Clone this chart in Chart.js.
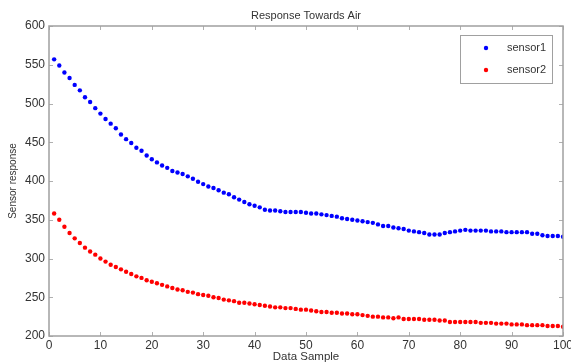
<!DOCTYPE html>
<html>
<head>
<meta charset="utf-8">
<script src="https://cdn.jsdelivr.net/npm/chart.js@4/dist/chart.umd.min.js"></script>
<style>
  html, body { margin: 0; padding: 0; background: #fff; }
  #wrap { width: 571px; height: 363px; }
</style>
</head>
<body>
<div id="wrap"><canvas id="graphCanvas" width="571" height="363"></canvas></div>
<script>
// DATA BLOCK
const samples = [];
for (let i = 1; i <= 100; i++) samples.push(i);

const sensor1 = [
  557, 549, 540, 533, 524, 517, 508, 502, 494, 487,
  480, 474, 468, 460, 454, 449, 443, 439, 433, 428,
  424, 420, 417, 413, 411, 409, 406, 403, 399, 396,
  393, 391, 388, 385, 383, 379, 376, 373, 370, 368,
  366, 363, 362, 362, 361, 360, 360, 360, 360, 359,
  358, 358, 357, 356, 355, 354, 352, 351, 350, 349,
  348, 347, 346, 344, 342, 342, 340, 339, 338, 336,
  335, 334, 333, 331, 331, 331, 333, 334, 335, 336,
  337, 336, 336, 336, 336, 335, 335, 335, 334, 334,
  334, 334, 334, 332, 332, 330, 329, 329, 329, 328
];

const sensor2 = [
  358, 350, 341, 333, 326, 320, 314, 309, 305, 300,
  296, 292, 289, 286, 283, 280, 277, 275, 272, 270,
  268, 266, 264, 262, 260, 259, 257, 256, 254, 253,
  252, 250, 249, 247, 246, 245, 243, 243, 242, 241,
  240, 239, 238, 237, 237, 236, 236, 235, 234, 234,
  233, 232, 231, 231, 230, 230, 229, 229, 228, 228,
  227, 226, 225, 225, 224, 224, 223, 224, 222, 222,
  222, 222, 221, 221, 221, 220, 220, 218, 218, 218,
  218, 218, 218, 217, 217, 217, 216, 216, 216, 215,
  215, 215, 214, 214, 214, 214, 213, 213, 213, 212
];

const xTicks = [0, 10, 20, 30, 40, 50, 60, 70, 80, 90, 100];
const yTicks = [200, 250, 300, 350, 400, 450, 500, 550, 600];
const seriesNames = ['sensor1', 'sensor2'];
const seriesColors = ['#0000ff', '#ff0000'];

const FONT = 'Liberation Sans, Arial, sans-serif';

// box + inward ticks + title + legend, MATLAB style
const matlabBox = {
  id: 'matlabBox',
  afterDraw(chart) {
    const ctx = chart.ctx;
    const a = chart.chartArea;
    const xs = chart.scales.x, ys = chart.scales.y;
    ctx.save();
    // ticks
    ctx.strokeStyle = '#b0b0b0';
    ctx.lineWidth = 1;
    ctx.beginPath();
    xTicks.forEach(v => {
      const px = Math.round(xs.getPixelForValue(v)) + 0.5;
      ctx.moveTo(px, a.bottom); ctx.lineTo(px, a.bottom - 4);
      ctx.moveTo(px, a.top); ctx.lineTo(px, a.top + 4);
    });
    yTicks.forEach(v => {
      const py = Math.round(ys.getPixelForValue(v)) + 0.5;
      ctx.moveTo(a.left, py); ctx.lineTo(a.left + 4, py);
      ctx.moveTo(a.right, py); ctx.lineTo(a.right - 4, py);
    });
    ctx.stroke();
    // box
    ctx.strokeStyle = '#a0a0a0';
    ctx.lineWidth = 1.5;
    ctx.strokeRect(a.left, a.top, a.right - a.left, a.bottom - a.top);

    // title
    ctx.fillStyle = '#333';
    ctx.font = '11px ' + FONT;
    ctx.textAlign = 'center';
    ctx.textBaseline = 'middle';
    ctx.fillText('Response Towards Air', (a.left + a.right) / 2, 16);

    // legend
    const lx = 460, ly = 35, lw = 92, lh = 48;
    ctx.fillStyle = '#fff';
    ctx.fillRect(lx, ly, lw, lh);
    ctx.strokeStyle = '#a0a0a0';
    ctx.lineWidth = 1;
    ctx.strokeRect(lx + 0.5, ly + 0.5, lw, lh);
    ctx.textAlign = 'left';
    seriesNames.forEach((n, i) => {
      const yy = ly + 13 + i * 22;
      ctx.fillStyle = seriesColors[i];
      ctx.beginPath();
      ctx.arc(lx + 26, yy, 2.2, 0, Math.PI * 2);
      ctx.fill();
      ctx.fillStyle = '#333';
      ctx.fillText(n, lx + 47, yy);
    });
    ctx.restore();
  }
};

// SETUP BLOCK
const data = {
  datasets: seriesNames.map((n, i) => ({
    label: n,
    data: samples.map((s, k) => ({ x: s, y: i === 0 ? sensor1[k] : sensor2[k] })),
    backgroundColor: seriesColors[i],
    pointRadius: 2.2,
    pointBorderWidth: 0,
    showLine: false
  }))
};

// CONFIG BLOCK
const config = {
  type: 'scatter',
  data,
  options: {
    responsive: false,
    animation: false,
    events: [],
    layout: { padding: { top: 26, right: 8, left: 0, bottom: 0 } },
    plugins: {
      legend: { display: false },
      title: { display: false },
      tooltip: { enabled: false }
    },
    scales: {
      x: {
        type: 'linear',
        min: 0, max: 100,
        afterBuildTicks: s => { s.ticks = xTicks.map(v => ({ value: v })); },
        afterFit: s => { s.height = 27; s.paddingRight = 0; s.paddingLeft = 0; },
        grid: { display: false, drawTicks: false },
        border: { display: false },
        ticks: { color: '#333', font: { family: FONT, size: 12 }, padding: 2, maxRotation: 0 },
        title: { display: true, text: 'Data Sample', color: '#333', font: { family: FONT, size: 11.5, lineHeight: 1 }, padding: { top: 0, bottom: 0 } }
      },
      y: {
        type: 'linear',
        min: 200, max: 600,
        afterBuildTicks: s => { s.ticks = yTicks.map(v => ({ value: v })); },
        afterFit: s => { s.width = 49; s.paddingTop = 0; s.paddingBottom = 0; },
        grid: { display: false, drawTicks: false },
        border: { display: false },
        ticks: { color: '#333', font: { family: FONT, size: 12 }, padding: 4 },
        title: { display: true, text: 'Sensor response', color: '#333', font: { family: FONT, size: 10 }, padding: { top: 7, bottom: 0 } }
      }
    }
  },
  plugins: [matlabBox]
};

// RENDER BLOCK
const graphCanvas = new Chart(
  document.getElementById('graphCanvas').getContext('2d'),
  config
);
</script>
</body>
</html>
